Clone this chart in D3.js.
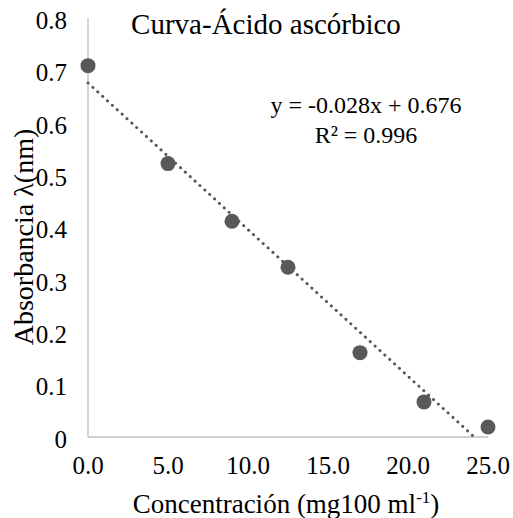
<!DOCTYPE html>
<html><head><meta charset="utf-8">
<script src="https://cdn.jsdelivr.net/npm/d3@7"></script>
<style>body{margin:0;background:#fff}svg{display:block}</style>
</head><body><div id="c"></div>
<script>
const concentration = [0.0, 5.0, 9.0, 12.5, 17.0, 21.0, 25.0];
const absorbance = [0.709, 0.522, 0.412, 0.324, 0.161, 0.067, 0.019];
const xTicks = [0, 5, 10, 15, 20, 25];
const yTicks = [0, 0.1, 0.2, 0.3, 0.4, 0.5, 0.6, 0.7, 0.8];
const slope = -0.028, intercept = 0.676;

const W = 513, H = 518;
const FONT = "'Liberation Serif', 'Times New Roman', 'DejaVu Serif', serif";
const svg = d3.select("#c").append("svg").attr("width", W).attr("height", H)
  .attr("font-family", FONT).style("font-family", FONT);
const x = d3.scaleLinear().domain([0, 25]).range([88, 488]);
const y = d3.scaleLinear().domain([0, 0.8]).range([437, 18]);

// axes lines
svg.append("line").attr("x1", x(0)).attr("x2", x(0)).attr("y1", y(0.8)).attr("y2", y(0)).attr("stroke", "#bfbfbf").attr("stroke-width", 1.3);
svg.append("line").attr("x1", x(0)).attr("x2", x(25)).attr("y1", y(0)).attr("y2", y(0)).attr("stroke", "#bfbfbf").attr("stroke-width", 1.3);

// tick labels
svg.selectAll(".yt").data(yTicks).enter().append("text")
  .attr("x", 67).attr("y", d => y(d)).attr("dy", "0.43em").attr("text-anchor", "end")
  .attr("font-size", 25).text(d => d === 0 ? "0" : d3.format(".1f")(d));
svg.selectAll(".xt").data(xTicks).enter().append("text")
  .attr("x", d => x(d)).attr("y", 474).attr("text-anchor", "middle")
  .attr("font-size", 25).text(d => d3.format(".1f")(d));

// trendline
const xEnd = -intercept / slope;
svg.append("line")
  .attr("x1", x(0)).attr("y1", y(intercept))
  .attr("x2", x(xEnd)).attr("y2", y(0))
  .attr("stroke", "#595959").attr("stroke-width", 3).attr("stroke-dasharray", "0.1 6.5").attr("stroke-linecap", "round");

// points
svg.selectAll(".pt").data(concentration).enter().append("circle")
  .attr("cx", d => x(d)).attr("cy", (d, i) => y(absorbance[i])).attr("r", 7.5).attr("fill", "#595959");

// title
svg.append("text").attr("x", 266).attr("y", 34).attr("text-anchor", "middle").attr("font-size", 29).text("Curva-Ácido ascórbico");

// equation
svg.append("text").attr("x", 366).attr("y", 113).attr("text-anchor", "middle").attr("font-size", 24).text("y = -0.028x + 0.676");
svg.append("text").attr("x", 366).attr("y", 143).attr("text-anchor", "middle").attr("font-size", 24).text("R² = 0.996");

// axis titles
svg.append("text").attr("transform", "translate(33,237) rotate(-90)").attr("text-anchor", "middle").attr("font-size", 28).text("Absorbancia λ(nm)");
const xl = svg.append("text").attr("x", 286).attr("y", 513).attr("text-anchor", "middle").attr("font-size", 27);
xl.append("tspan").text("Concentración (mg100 ml");
xl.append("tspan").attr("dy", -10).attr("font-size", 17).text("-1");
xl.append("tspan").attr("dy", 10).text(")");
</script></body></html>
